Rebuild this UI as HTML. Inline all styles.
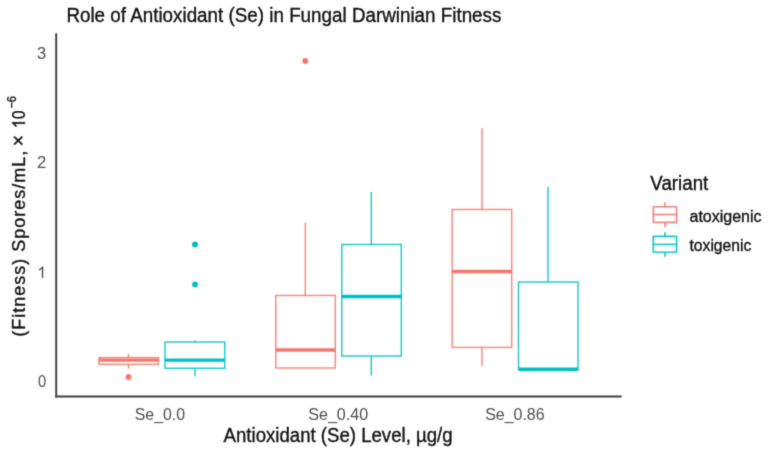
<!DOCTYPE html>
<html><head><meta charset="utf-8">
<style>
html,body{margin:0;padding:0;background:#fff;width:768px;height:458px;overflow:hidden}
svg{display:block}
text{font-family:"Liberation Sans",sans-serif;stroke-width:0.35px}
</style></head>
<body>
<svg width="768" height="458" viewBox="0 0 768 458">
<defs><filter id="bl" color-interpolation-filters="sRGB" x="0" y="0" width="768" height="458" filterUnits="userSpaceOnUse"><feConvolveMatrix order="3" kernelMatrix="0.0192 0.1001 0.0192 0.1001 0.5228 0.1001 0.0192 0.1001 0.0192" edgeMode="duplicate"/></filter></defs>
<g filter="url(#bl)">
<rect width="768" height="458" fill="#fff"/>
<!-- title -->
<text x="66.4" y="21.7" font-size="20" fill="#111" stroke="#111" textLength="435" lengthAdjust="spacingAndGlyphs">Role of Antioxidant (Se) in Fungal Darwinian Fitness</text>

<!-- axes -->
<line x1="56.2" y1="33.2" x2="56.2" y2="397.4" stroke="#3c3c3c" stroke-width="1.9"/>
<line x1="55.25" y1="396.45" x2="621.6" y2="396.45" stroke="#3c3c3c" stroke-width="1.9"/>

<!-- y ticks -->
<g font-size="16.5" fill="#4d4d4d" stroke="none" text-anchor="end">
<text x="46.1" y="386.9" textLength="8.2" lengthAdjust="spacingAndGlyphs">0</text>
<path d="M763 0L583 0L583 1147Q518 1085 412 1023Q306 961 222 930L222 1104Q373 1175 486 1276Q599 1377 646 1472L763 1472Z" transform="translate(37.12,278.1) scale(0.008057,-0.008057)" fill="#4d4d4d"/>
<text x="46.3" y="168.1">2</text>
<text x="46.3" y="58.8">3</text>
</g>

<!-- x ticks -->
<g font-size="16.5" fill="#4d4d4d" stroke="none" text-anchor="middle">
<text x="159.9" y="419.8" textLength="50.3" lengthAdjust="spacingAndGlyphs">Se_0.0</text>
<text x="338.2" y="419.8" textLength="60" lengthAdjust="spacingAndGlyphs">Se_0.40</text>
<text x="514.9" y="419.8" textLength="59.4" lengthAdjust="spacingAndGlyphs">Se_0.86</text>
</g>

<!-- x title -->
<text x="338.1" y="441.8" font-size="19.6" fill="#111" stroke="#111" text-anchor="middle" textLength="229" lengthAdjust="spacingAndGlyphs">Antioxidant (Se) Level, µg/g</text>

<!-- y title -->
<g transform="rotate(-90)" fill="#111" stroke="#111">
<text x="-336.7" y="25" font-size="18" textLength="186" lengthAdjust="spacing">(Fitness)  Spores/mL,</text>
<text x="-146.2" y="25.2" font-size="19.5">×</text>
<path d="M763 0L583 0L583 1147Q518 1085 412 1023Q306 961 222 930L222 1104Q373 1175 486 1276Q599 1377 646 1472L763 1472Z" transform="translate(-128.3,25) scale(0.007910,-0.008789)" stroke-width="0.35" vector-effect="non-scaling-stroke"/>
<text x="-119.1" y="25" font-size="18" textLength="8.5" lengthAdjust="spacingAndGlyphs">0</text>
<text x="-108.6" y="15.8" font-size="12.5" textLength="12.6" lengthAdjust="spacingAndGlyphs">−6</text>
</g>

<!-- boxes -->
<g fill="none" stroke-width="1.45" stroke-opacity="0.88">
<!-- group 1 red -->
<g stroke="#F8766D">
<line x1="128.5" y1="354" x2="128.5" y2="357.6"/>
<line x1="128.5" y1="364.3" x2="128.5" y2="368.6"/>
<rect x="99" y="357.6" width="59.5" height="6.7"/>
<line x1="99" y1="360.1" x2="158.5" y2="360.1" stroke-width="3.3" stroke-opacity="1"/>
</g>
<circle cx="128.5" cy="377" r="2.95" fill="#F8766D" stroke="none"/>
<!-- group 1 teal -->
<g stroke="#00BFC4">
<line x1="195" y1="340.5" x2="195" y2="342"/>
<line x1="195" y1="368.3" x2="195" y2="376.5"/>
<rect x="165" y="342" width="59.8" height="26.3"/>
<line x1="165" y1="360.1" x2="224.8" y2="360.1" stroke-width="3.4" stroke-opacity="1"/>
</g>
<circle cx="195" cy="244.5" r="2.95" fill="#00BFC4" stroke="none"/>
<circle cx="195" cy="284.5" r="2.95" fill="#00BFC4" stroke="none"/>

<!-- group 2 red -->
<g stroke="#F8766D">
<line x1="305.3" y1="222.5" x2="305.3" y2="295.5"/>
<rect x="275.8" y="295.5" width="59.5" height="72.5"/>
<line x1="275.8" y1="350" x2="335.3" y2="350" stroke-width="3.3" stroke-opacity="1"/>
</g>
<circle cx="305.3" cy="61" r="2.95" fill="#F8766D" stroke="none"/>
<!-- group 2 teal -->
<g stroke="#00BFC4">
<line x1="371.3" y1="192" x2="371.3" y2="244.5"/>
<line x1="371.3" y1="356" x2="371.3" y2="375.5"/>
<rect x="341.8" y="244.5" width="59.5" height="111.5"/>
<line x1="341.8" y1="296.5" x2="401.3" y2="296.5" stroke-width="3.3" stroke-opacity="1"/>
</g>

<!-- group 3 red -->
<g stroke="#F8766D">
<line x1="482" y1="128" x2="482" y2="209.5"/>
<line x1="482" y1="347.4" x2="482" y2="366"/>
<rect x="452.2" y="209.5" width="59.5" height="137.9"/>
<line x1="452.2" y1="271.5" x2="511.7" y2="271.5" stroke-width="3.3" stroke-opacity="1"/>
</g>
<!-- group 3 teal -->
<g stroke="#00BFC4">
<line x1="548" y1="187" x2="548" y2="282"/>
<rect x="518.5" y="282" width="59.5" height="87.3"/>
<line x1="518.5" y1="369.3" x2="578" y2="369.3" stroke-width="3.4" stroke-opacity="1"/>
</g>
</g>

<!-- legend -->
<text x="650.3" y="189.9" font-size="19.6" fill="#111" stroke="#111" textLength="58" lengthAdjust="spacingAndGlyphs">Variant</text>
<g fill="none" stroke-width="1.65" stroke-opacity="0.9">
<g stroke="#F8766D">
<line x1="665" y1="202.3" x2="665" y2="206.7"/>
<line x1="665" y1="222.4" x2="665" y2="227"/>
<rect x="653.3" y="206.7" width="23.3" height="15.7" rx="0.5"/>
<line x1="653.3" y1="214.5" x2="676.6" y2="214.5"/>
</g>
<g stroke="#00BFC4">
<line x1="665" y1="232.3" x2="665" y2="236.4"/>
<line x1="665" y1="252.6" x2="665" y2="256.8"/>
<rect x="653.3" y="236.4" width="23.3" height="15.9" rx="0.5"/>
<line x1="653.3" y1="244.4" x2="676.6" y2="244.4"/>
</g>
</g>
<g font-size="16" fill="#111" stroke="#111">
<text x="689.5" y="222.2">atoxigenic</text>
<text x="689.5" y="251.3" textLength="61.8" lengthAdjust="spacingAndGlyphs">toxigenic</text>
</g>
</g>
</svg>
</body></html>
